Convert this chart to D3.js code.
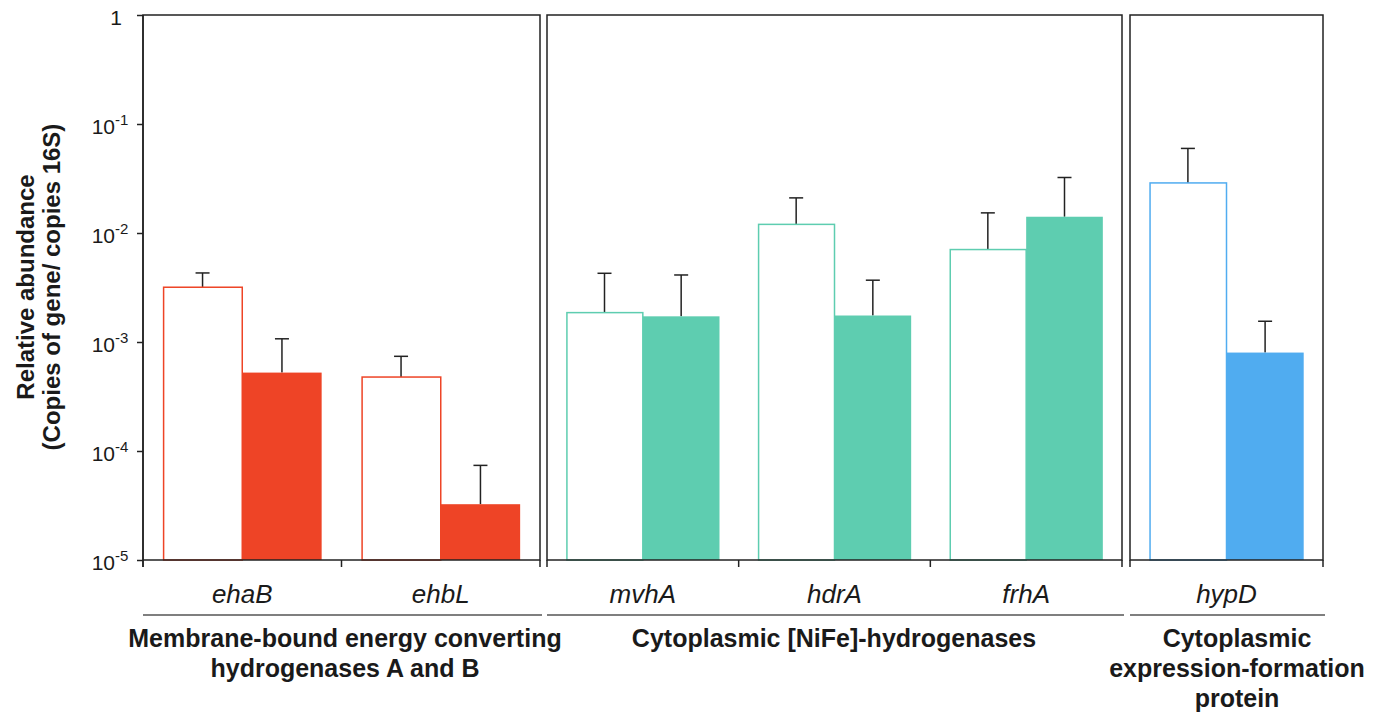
<!DOCTYPE html>
<html>
<head>
<meta charset="utf-8">
<script src="https://cdn.jsdelivr.net/npm/d3@7"></script>
<style>
  body { margin: 0; background: #fff; }
  text { font-family: "Liberation Sans", Arial, sans-serif; fill: #1a1a1a; }
</style>
</head>
<body>
<script>
// data
var genes = ["ehaB", "ehbL", "mvhA", "hdrA", "frhA", "hypD"];
var geneGroup = [0, 0, 1, 1, 1, 2];
var openMean = [3.18e-3, 4.77e-4, 1.86e-3, 1.20e-2, 7.05e-3, 2.88e-2];
var openUpper = [4.30e-3, 7.39e-4, 4.27e-3, 2.10e-2, 1.53e-2, 5.97e-2];
var filledMean = [5.24e-4, 3.25e-5, 1.72e-3, 1.75e-3, 1.41e-2, 8.0e-4];
var filledUpper = [1.07e-3, 7.38e-5, 4.12e-3, 3.69e-3, 3.23e-2, 1.55e-3];
var groupNames = [
    ["Membrane-bound energy converting", "hydrogenases A and B"],
    ["Cytoplasmic [NiFe]-hydrogenases"],
    ["Cytoplasmic", "expression-formation", "protein"]
];
var groupColors = ["#ee4426", "#5ecdb0", "#50acf0"];
var yTicks = [1, 1e-1, 1e-2, 1e-3, 1e-4, 1e-5];
var yExp = ["", "-1", "-2", "-3", "-4", "-5"];

var width = 1375, height = 712;
var plotTop = 15, plotBottom = 560;
var panels = [[143, 540], [547, 1122], [1130, 1323]];
var groupCenters = [345, 834, 1237];

var svg = d3.select("body").append("svg")
    .attr("width", width)
    .attr("height", height);

var y = d3.scaleLog().domain([1e-5, 1]).range([plotBottom, plotTop]);

// y axis
var yAxis = svg.append("g")
    .attr("transform", "translate(143,0)")
    .call(d3.axisLeft(y).tickValues(yTicks).tickSize(6).tickSizeOuter(0).tickFormat(""));
yAxis.selectAll("path, line").attr("stroke", "#222").attr("stroke-width", 1.5);
yAxis.select(".domain").remove();
svg.append("line")
    .attr("x1", 143).attr("x2", 143)
    .attr("y1", plotTop).attr("y2", plotBottom + 7)
    .attr("stroke", "#222").attr("stroke-width", 1.5);

yTicks.forEach(function(t, i) {
    svg.append("text")
        .attr("x", i == 0 ? 122 : 115)
        .attr("y", y(t) + 10)
        .attr("text-anchor", "end")
        .style("font-size", "21px")
        .text(i == 0 ? "1" : "10");
    if (i > 0) {
        svg.append("text")
            .attr("x", 115)
            .attr("y", y(t) + 1)
            .style("font-size", "15px")
            .text(yExp[i]);
    }
});

svg.append("text")
    .attr("transform", "translate(34,287) rotate(-90)")
    .attr("text-anchor", "middle")
    .style("font-size", "24px")
    .style("font-weight", "bold")
    .text("Relative abundance");
svg.append("text")
    .attr("transform", "translate(60,287) rotate(-90)")
    .attr("text-anchor", "middle")
    .style("font-size", "24px")
    .style("font-weight", "bold")
    .text("(Copies of gene/ copies 16S)");

panels.forEach(function(p, gi) {
    var idx = genes.map(function(g, i) { return i; }).filter(function(i) { return geneGroup[i] == gi; });
    var x = d3.scaleBand()
        .domain(idx.map(function(i) { return genes[i]; }))
        .range(p)
        .paddingInner(0.2)
        .paddingOuter(0.1);
    var xs = d3.scaleBand().domain(["open", "filled"]).range([0, x.bandwidth()]);
    var col = groupColors[gi];
    var g = svg.append("g");

    idx.forEach(function(i) {
        var x0 = x(genes[i]);
        // error bars (upper only)
        [["open", openMean[i], openUpper[i]], ["filled", filledMean[i], filledUpper[i]]].forEach(function(d) {
            var cx = x0 + xs(d[0]) + xs.bandwidth() / 2;
            g.append("line")
                .attr("x1", cx).attr("x2", cx)
                .attr("y1", y(d[1])).attr("y2", y(d[2]))
                .attr("stroke", "#222").attr("stroke-width", 1.5);
            g.append("line")
                .attr("x1", cx - 7).attr("x2", cx + 7)
                .attr("y1", y(d[2])).attr("y2", y(d[2]))
                .attr("stroke", "#222").attr("stroke-width", 1.5);
        });
        g.append("rect")
            .attr("x", x0 + xs("open") + 0.75)
            .attr("y", y(openMean[i]))
            .attr("width", xs.bandwidth() - 0.75)
            .attr("height", plotBottom - y(openMean[i]))
            .attr("fill", "#fff")
            .attr("stroke", col)
            .attr("stroke-width", 1.5);
        g.append("rect")
            .attr("x", x0 + xs("filled"))
            .attr("y", y(filledMean[i]))
            .attr("width", xs.bandwidth())
            .attr("height", plotBottom - y(filledMean[i]))
            .attr("fill", col);

        svg.append("text")
            .attr("x", x0 + x.bandwidth() / 2)
            .attr("y", 603)
            .attr("text-anchor", "middle")
            .style("font-size", "26px")
            .style("font-style", "italic")
            .text(genes[i]);
    });

    // panel box
    svg.append("rect")
        .attr("x", p[0]).attr("y", plotTop)
        .attr("width", p[1] - p[0]).attr("height", plotBottom - plotTop)
        .attr("fill", "none")
        .attr("stroke", "#222").attr("stroke-width", 1.5);

    // bottom ticks at category boundaries
    var bounds = [p[0]];
    idx.forEach(function(i) { bounds.push(x(genes[i]) - x.step() * 0.1 + x.step()); });
    bounds.forEach(function(b) {
        svg.append("line")
            .attr("x1", b).attr("x2", b)
            .attr("y1", plotBottom).attr("y2", plotBottom + 7)
            .attr("stroke", "#222").attr("stroke-width", 1.5);
    });

    // group underline and label
    svg.append("line")
        .attr("x1", p[0]).attr("x2", p[1] + 2)
        .attr("y1", 615).attr("y2", 615)
        .attr("stroke", "#555").attr("stroke-width", 1.5);
    groupNames[gi].forEach(function(line, li) {
        svg.append("text")
            .attr("x", groupCenters[gi])
            .attr("y", 647 + li * 30)
            .attr("text-anchor", "middle")
            .style("font-size", "25px")
            .style("font-weight", "bold")
            .text(line);
    });
});
</script>
</body>
</html>
